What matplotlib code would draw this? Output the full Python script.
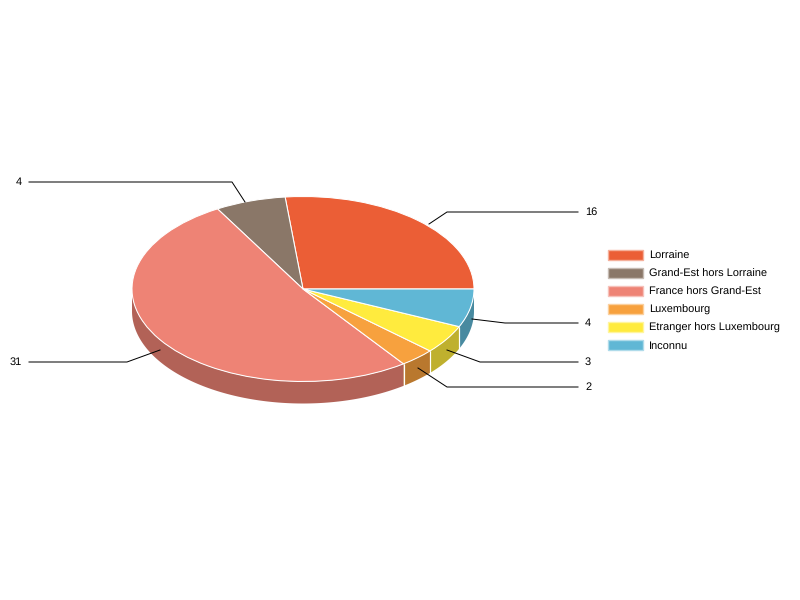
import numpy as np
import matplotlib
matplotlib.use("Agg")
import matplotlib.pyplot as plt
from matplotlib.patches import Patch

plt.rcParams['font.family'] = ['Liberation Sans', 'DejaVu Sans']
plt.rcParams['text.hinting'] = 'no_hinting'
plt.rcParams['text.hinting_factor'] = 1

categories = ["Lorraine", "Grand-Est hors Lorraine", "France hors Grand-Est",
              "Luxembourg", "Etranger hors Luxembourg", "Inconnu"]
values = [16, 4, 31, 2, 3, 4]
colors = ["#EB5E36", "#8A7768", "#EE8375", "#F7A13E", "#FFEB3E", "#60B7D5"]
side_colors = ["#B04628", "#67594E", "#B26257", "#B9782E", "#BFB02E", "#488AA0"]
edge_colors = ["#F5B09B", "#C5BBB3", "#F6C1BA", "#FBD09E", "#FFF59E", "#AFDBEA"]

W, H = 800, 600
cx, cy, rx, ry, depth = 303.0, 289.0, 171.0, 92.5, 22.0

fig = plt.figure(figsize=(W / 100, H / 100), dpi=100, facecolor="white")

# Pie axes: one unit of radius spans rx by ry pixels, giving the tilted look
ax = fig.add_axes([0, 0, 1, 1])
edges = np.cumsum([0] + values) / sum(values) * 360.0
d = depth / ry
for i, color in enumerate(side_colors):
    lo, hi = max(edges[i], 180.0), min(edges[i + 1], 360.0)
    if hi <= lo:
        continue
    t = np.radians(np.linspace(lo, hi, 200))
    ax.fill_between(np.cos(t), np.sin(t), np.sin(t) - d, facecolor=color,
                    edgecolor="none", zorder=1)
    for a in (lo, hi):
        if 180.0 < a < 360.0:
            r = np.radians(a)
            ax.plot([np.cos(r)] * 2, [np.sin(r), np.sin(r) - d], color="white",
                    lw=0.8, zorder=1.5, solid_capstyle="butt")
ax.pie(values, colors=colors, startangle=0, counterclock=True, radius=1,
       wedgeprops=dict(edgecolor="white", linewidth=0.75, zorder=2))
ax.set_aspect("auto")
ax.set_xlim(-cx / rx, (W - cx) / rx)
ax.set_ylim(-(H - cy) / ry, cy / ry)
ax.axis("off")

# Overlay in pixel coordinates for leaders, labels and legend
ov = fig.add_axes([0, 0, 1, 1], facecolor="none")
ov.set_xlim(0, W)
ov.set_ylim(H, 0)
ov.axis("off")

leaders = [
    ([429, 447, 578], [224, 212, 212], 585, "left", values[0]),
    ([245, 232, 29], [202, 182, 182], 22, "right", values[1]),
    ([160, 127, 29], [350, 362, 362], 22, "right", values[2]),
    ([418, 447, 578], [368, 387, 387], 585, "left", values[3]),
    ([447, 480, 578], [350, 362, 362], 585, "left", values[4]),
    ([472, 505, 578], [319, 323, 323], 585, "left", values[5]),
]
for xs, ys, tx, ha, val in leaders:
    ov.plot(xs, ys, color="black", lw=0.72, zorder=5, snap=False,
            solid_joinstyle="miter")
    ov.text(tx, ys[-1], str(val), ha=ha, va="center", fontsize=7.9, color="black")

handles = [Patch(facecolor=c, edgecolor=e, linewidth=1.0)
           for c, e in zip(colors, edge_colors)]
ov.legend(handles, categories, loc="upper left",
          bbox_to_anchor=(608 / W, 1 - 250 / H), bbox_transform=fig.transFigure,
          frameon=False, fontsize=7.9, borderpad=0, borderaxespad=0,
          handlelength=3.2, handleheight=1.0, handletextpad=0.55,
          labelspacing=0.65)

fig.savefig("out.png", dpi=100, facecolor="white")
